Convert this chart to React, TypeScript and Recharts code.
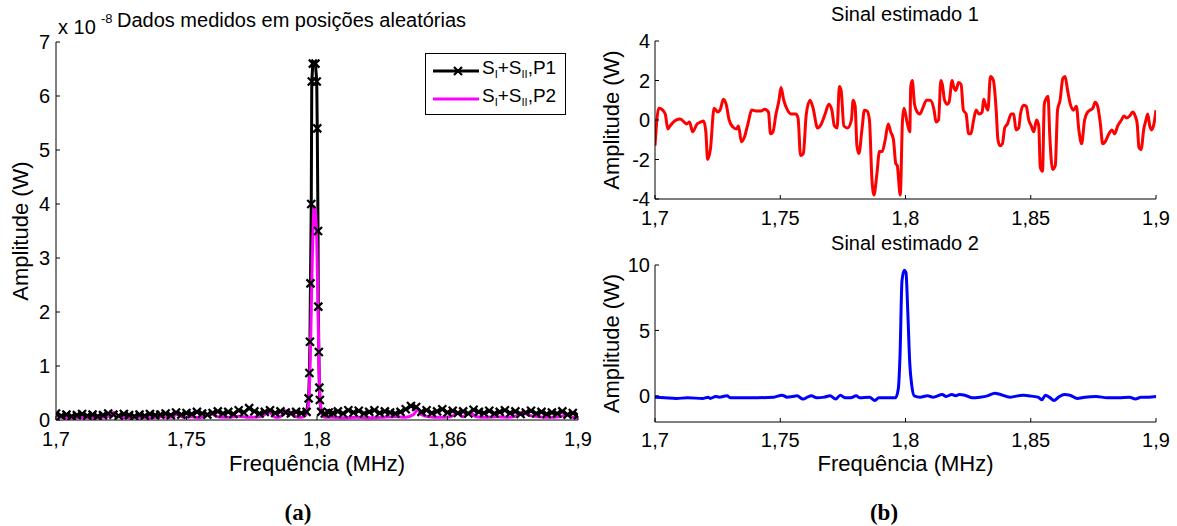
import React from 'react';
import { LineChart, Line, XAxis, YAxis, Legend } from 'recharts';

const FONT = '"Liberation Sans", Arial, Helvetica, sans-serif';

// ---------- axis ticks ----------
const freqTicks = [1.7, 1.75, 1.8, 1.85, 1.9];
const leftTickLabels = ['1,7', '1,75', '1,8', '1,86', '1,9'];
const rightTickLabels = ['1,7', '1,75', '1,8', '1,85', '1,9'];
const leftYTicks = [0, 1, 2, 3, 4, 5, 6, 7];
const topYTicks = [-4, -2, 0, 2, 4];
const bottomYTicks = [0, 5, 10];

// ---------- (a) S_I+S_II,P1 (x 1e-8 W) ----------
const p1Freq = [
  1.700, 1.702, 1.704, 1.706, 1.708, 1.710, 1.712, 1.714, 1.716, 1.718,
  1.720, 1.722, 1.724, 1.726, 1.728, 1.730, 1.732, 1.734, 1.736, 1.738,
  1.740, 1.742, 1.744, 1.746, 1.748, 1.750, 1.752, 1.754, 1.756, 1.758,
  1.760, 1.762, 1.764, 1.766, 1.768, 1.770, 1.772, 1.774, 1.776, 1.778,
  1.780, 1.782, 1.784, 1.786, 1.788, 1.790, 1.792, 1.794,
  1.7960, 1.7968, 1.7971, 1.7973, 1.7975, 1.7978, 1.7980, 1.7984, 1.7994, 1.7999,
  1.8001, 1.8004, 1.8005, 1.8007, 1.8009, 1.8011, 1.8016, 1.8030, 1.8045,
  1.806, 1.808, 1.810, 1.812, 1.814, 1.816, 1.818, 1.820, 1.822, 1.824,
  1.826, 1.828, 1.830, 1.832, 1.834, 1.836, 1.838, 1.840, 1.842, 1.844,
  1.846, 1.848, 1.850, 1.852, 1.854, 1.856, 1.858, 1.860, 1.862, 1.864,
  1.866, 1.868, 1.870, 1.872, 1.874, 1.876, 1.878, 1.880, 1.882, 1.884,
  1.886, 1.888, 1.890, 1.892, 1.894, 1.896, 1.898, 1.900,
];
const p1Values = [
  0.12, 0.08, 0.1, 0.07, 0.09, 0.11, 0.08, 0.1, 0.07, 0.09,
  0.12, 0.1, 0.08, 0.11, 0.09, 0.07, 0.1, 0.08, 0.11, 0.09,
  0.1, 0.12, 0.09, 0.14, 0.1, 0.13, 0.11, 0.15, 0.12, 0.1,
  0.13, 0.16, 0.12, 0.15, 0.11, 0.18, 0.14, 0.22, 0.16, 0.12,
  0.15, 0.18, 0.13, 0.16, 0.14, 0.12, 0.15, 0.13,
  0.15, 0.4, 0.87, 1.45, 2.53, 4.0, 6.27, 6.6, 6.6, 6.27,
  5.4, 3.5, 2.1, 1.26, 0.6, 0.37, 0.15, 0.12, 0.14,
  0.13, 0.16, 0.12, 0.18, 0.14, 0.17, 0.12, 0.15, 0.18, 0.13,
  0.16, 0.14, 0.12, 0.15, 0.2, 0.26, 0.24, 0.15, 0.18, 0.13,
  0.16, 0.2, 0.14, 0.17, 0.13, 0.16, 0.12, 0.19, 0.15, 0.13,
  0.17, 0.12, 0.15, 0.18, 0.13, 0.16, 0.11, 0.14, 0.17, 0.12,
  0.15, 0.11, 0.14, 0.12, 0.16, 0.1, 0.13, 0.09,
];

// ---------- (a) S_I+S_II,P2 ----------
const p2Freq = [
  1.700, 1.702, 1.706, 1.710, 1.714, 1.718, 1.7205, 1.7222, 1.724, 1.728,
  1.732, 1.736, 1.740, 1.744, 1.7464, 1.749, 1.752, 1.755, 1.7593, 1.762,
  1.766, 1.770, 1.774, 1.778, 1.7818, 1.784, 1.786, 1.7877, 1.790, 1.792,
  1.794, 1.7955,
  1.7968, 1.7975, 1.7982, 1.7990, 1.7998, 1.8004, 1.8010, 1.8018, 1.8030,
  1.806, 1.810, 1.815, 1.820, 1.825, 1.830, 1.834, 1.837, 1.8386, 1.840,
  1.843, 1.847, 1.851, 1.8538, 1.856, 1.8587, 1.861, 1.865, 1.869, 1.873,
  1.876, 1.8788, 1.881, 1.885, 1.889, 1.893, 1.8961, 1.898, 1.900,
];
const p2Values = [
  0.1, 0.05, 0.04, 0.05, 0.04, 0.05, 0.08, 0.14, 0.06, 0.04,
  0.05, 0.04, 0.06, 0.05, 0.1, 0.05, 0.06, 0.04, 0.12, 0.06,
  0.05, 0.07, 0.05, 0.06, 0.14, 0.05, 0.06, 0.17, 0.14, 0.06,
  0.05, 0.08,
  0.3, 1.3, 3.0, 3.95, 3.5, 2.0, 0.6, 0.12, 0.05,
  0.05, 0.04, 0.05, 0.04, 0.05, 0.06, 0.05, 0.1, 0.19, 0.1,
  0.06, 0.05, 0.06, 0.12, 0.06, 0.14, 0.06, 0.05, 0.06, 0.05,
  0.07, 0.15, 0.09, 0.06, 0.05, 0.06, 0.1, 0.05, 0.04,
];

// ---------- (b) Sinal estimado 1 [freq, W] ----------
const sinal1: [number, number][] = [
  [1.7000, -1.3], [1.7015, 0.6], [1.7026, 0.55], [1.7041, 0.3], [1.7051, -0.45], [1.7060, -0.3],
  [1.7078, -0.05], [1.7100, 0.05], [1.7116, -0.1], [1.7126, -0.2], [1.7138, -0.1], [1.7150, -0.6],
  [1.7168, -0.2], [1.7183, -0.1], [1.7194, -0.05], [1.7203, -0.6], [1.7210, -2.0], [1.7221, -1.5],
  [1.7236, 0.6], [1.7251, 0.4], [1.7261, 0.55], [1.7273, 1.05], [1.7284, 0.8], [1.7296, 0.0],
  [1.7311, -0.35], [1.7326, -0.45], [1.7333, -0.3], [1.7345, -1.1], [1.7356, -0.9], [1.7371, -0.2],
  [1.7386, 0.5], [1.7408, 0.45], [1.7423, 0.45], [1.7438, 0.55], [1.7453, 0.4], [1.7461, -0.7],
  [1.7471, -0.6], [1.7483, 0.3], [1.7495, 1.0], [1.7503, 1.65], [1.7514, 1.0], [1.7529, 0.5],
  [1.7544, 0.3], [1.7562, 0.3], [1.7571, 0.1], [1.7581, -1.8], [1.7592, -1.7], [1.7604, 0.3],
  [1.7619, 1.0], [1.7631, 0.6], [1.7649, -0.4], [1.7664, -0.2], [1.7679, 0.3], [1.7694, 0.8],
  [1.7706, 0.5], [1.7716, -0.3], [1.7727, -0.4], [1.7736, 1.7], [1.7743, 1.5], [1.7754, -0.3],
  [1.7769, -0.4], [1.7784, 0.0], [1.7791, 1.0], [1.7799, 0.7], [1.7806, -1.3], [1.7814, -1.7],
  [1.7826, -0.5], [1.7836, 0.5], [1.7847, 0.45], [1.7856, 0.0], [1.7866, -3.0], [1.7874, -3.8],
  [1.7886, -2.7], [1.7896, -1.6], [1.7907, -1.6], [1.7919, -1.0], [1.7931, -0.2], [1.7941, -0.6],
  [1.7952, -1.0], [1.7961, -2.2], [1.7967, -2.3], [1.7979, -3.8], [1.7988, 0.0], [1.7994, 0.6],
  [1.8006, -0.1], [1.8017, -0.6], [1.8021, 1.7], [1.8027, 2.0], [1.8036, 0.8], [1.8047, 0.4],
  [1.8057, 0.3], [1.8069, 0.6], [1.8084, 1.0], [1.8099, 1.0], [1.8114, 0.5], [1.8122, -0.1],
  [1.8132, 0.0], [1.8141, 2.0], [1.8147, 1.8], [1.8156, 1.0], [1.8167, 0.8], [1.8174, 0.9],
  [1.8186, 2.0], [1.8192, 1.7], [1.8201, 1.5], [1.8212, 1.9], [1.8222, 1.8], [1.8231, 0.5],
  [1.8242, 0.3], [1.8252, -0.7], [1.8261, -0.7], [1.8272, 0.0], [1.8282, 0.5], [1.8294, 0.3],
  [1.8306, 0.4], [1.8312, 1.05], [1.8321, 0.7], [1.8329, 0.5], [1.8339, 2.2], [1.8351, 2.0],
  [1.8362, 0.5], [1.8369, -1.0], [1.8377, -1.3], [1.8387, -1.2], [1.8396, -0.4], [1.8407, -0.2],
  [1.8422, 0.3], [1.8432, 0.3], [1.8441, -0.5], [1.8452, -0.4], [1.8459, 0.3], [1.8471, 0.75],
  [1.8482, 0.7], [1.8492, 0.0], [1.8502, -0.3], [1.8512, -0.6], [1.8523, 0.0], [1.8532, -0.3],
  [1.8538, -2.4], [1.8547, -2.6], [1.8554, 0.8], [1.8562, 1.1], [1.8569, 1.2], [1.8576, -0.8],
  [1.8587, -2.5], [1.8598, -2.3], [1.8607, 0.5], [1.8617, 1.0], [1.8628, 2.1], [1.8637, 2.2],
  [1.8647, 1.5], [1.8658, 0.8], [1.8670, 0.5], [1.8682, 0.7], [1.8692, -0.5], [1.8703, -1.2],
  [1.8715, 0.0], [1.8727, 0.4], [1.8737, 0.5], [1.8748, 0.6], [1.8757, 0.9], [1.8767, 0.7],
  [1.8778, -0.2], [1.8787, -1.2], [1.8797, -1.1], [1.8812, -0.7], [1.8824, -0.5], [1.8835, -0.7],
  [1.8847, -0.3], [1.8862, 0.0], [1.8872, 0.2], [1.8883, 0.1], [1.8895, 0.2], [1.8907, 0.4],
  [1.8917, 0.2], [1.8925, -0.2], [1.8932, -1.4], [1.8940, -1.5], [1.8952, -0.4], [1.8958, -0.1],
  [1.8967, 0.3], [1.8975, -0.3], [1.8982, -0.5], [1.8990, -0.3], [1.9000, 0.5],
];

// ---------- (b) Sinal estimado 2 [freq, W] ----------
const sinal2: [number, number][] = [
  [1.7000, -0.1], [1.7040, -0.15], [1.7085, -0.2], [1.7130, -0.15], [1.7190, -0.2], [1.7212, -0.1],
  [1.7220, -0.2], [1.7242, -0.05], [1.7257, -0.1], [1.7287, 0.0], [1.7302, -0.15], [1.7384, -0.15],
  [1.7474, -0.1], [1.7507, 0.05], [1.7527, -0.1], [1.7549, -0.05], [1.7567, 0.0], [1.7591, -0.25],
  [1.7609, -0.1], [1.7624, 0.0], [1.7646, -0.15], [1.7676, -0.1], [1.7699, 0.0], [1.7721, -0.25],
  [1.7740, 0.05], [1.7758, -0.15], [1.7781, -0.15], [1.7803, 0.0], [1.7818, -0.15], [1.7856, -0.1],
  [1.7878, -0.35], [1.7893, -0.15], [1.7960, -0.15], [1.7971, 0.5], [1.7978, 3.0], [1.7986, 8.8],
  [1.7995, 9.6], [1.8002, 9.4], [1.8009, 6.5], [1.8017, 2.5], [1.8025, 0.8], [1.8035, 0.0],
  [1.8058, -0.1], [1.8088, 0.0], [1.8110, -0.1], [1.8147, 0.1], [1.8162, -0.05], [1.8185, 0.1],
  [1.8200, 0.0], [1.8215, 0.1], [1.8237, 0.05], [1.8267, -0.15], [1.8297, -0.1], [1.8327, 0.0],
  [1.8357, 0.2], [1.8379, 0.1], [1.8417, -0.1], [1.8469, 0.05], [1.8491, 0.0], [1.8529, -0.1],
  [1.8544, -0.3], [1.8559, 0.05], [1.8574, -0.1], [1.8593, -0.35], [1.8611, -0.1], [1.8634, 0.1],
  [1.8656, 0.05], [1.8686, -0.2], [1.8716, -0.1], [1.8761, -0.05], [1.8805, -0.15], [1.8850, -0.15],
  [1.8895, -0.1], [1.8918, -0.25], [1.8940, -0.1], [1.8970, -0.1], [1.9000, -0.05],
];

const zip = (fs: number[], vs: number[]) =>
  fs.slice(0, Math.min(fs.length, vs.length)).map((f, i) => ({ f, v: vs[i] }));
const fromPairs = (p: [number, number][]) => p.map(([f, v]) => ({ f, v }));

const p1Data = zip(p1Freq, p1Values);
const p2Data = zip(p2Freq, p2Values);
const s1Data = fromPairs(sinal1);
const s2Data = fromPairs(sinal2);

const tickStyle = { fill: '#000', fontSize: 20, fontFamily: FONT };
const leftFmt = (v: number) => leftTickLabels[freqTicks.indexOf(v)] ?? '';
const rightFmt = (v: number) => rightTickLabels[freqTicks.indexOf(v)] ?? '';
const yFmt = (v: number) => String(v);
const blank = () => '';

const XMarker = (props: any) => {
  const { cx, cy, index } = props;
  if (cx == null || cy == null) return <g key={`m${index}`} />;
  const r = 4;
  return (
    <path
      key={`m${index}`}
      d={`M${cx - r},${cy - r}L${cx + r},${cy + r}M${cx - r},${cy + r}L${cx + r},${cy - r}`}
      stroke="#000"
      strokeWidth={2.2}
      fill="none"
    />
  );
};

const LegendBox = () => (
  <div
    style={{
      width: 141,
      height: 62,
      boxSizing: 'border-box',
      border: '1px solid #000',
      background: '#fff',
      fontFamily: FONT,
      fontSize: 19,
      color: '#000',
      position: 'relative',
    }}
  >
    {[
      { color: '#000000', marker: true, label: 'P1', top: 6 },
      { color: '#FF00FF', marker: false, label: 'P2', top: 34 },
    ].map((e) => (
      <div key={e.label} style={{ position: 'absolute', left: 7, top: e.top, display: 'flex', alignItems: 'center', height: 22 }}>
        <svg width={47} height={12} style={{ display: 'block' }}>
          <line x1={0} y1={6} x2={46} y2={6} stroke={e.color} strokeWidth={3} />
          {e.marker && <path d="M21,2L29,10M21,10L29,2" stroke="#000" strokeWidth={2.2} />}
        </svg>
        <span style={{ marginLeft: 2, whiteSpace: 'nowrap', lineHeight: '20px' }}>
          S<sub style={{ fontSize: 11, verticalAlign: '-4px' }}>I</sub>+S
          <sub style={{ fontSize: 11, verticalAlign: '-4px' }}>II</sub>,{e.label}
        </span>
      </div>
    ))}
  </div>
);

const axisCommon = { stroke: '#000', tickLine: { stroke: '#000' } };
const axisLabelFont = { fill: '#000', fontSize: 22, fontFamily: FONT };

export default function App() {
  return (
    <div
      style={{
        position: 'absolute',
        left: 0,
        top: 0,
        width: 1177,
        height: 526,
        overflow: 'hidden',
        background: '#fff',
        fontFamily: FONT,
      }}
    >
      {/* (a) */}
      <div style={{ position: 'absolute', left: 0, top: 0 }}>
        <LineChart width={600} height={480} margin={{ top: 42, right: 22, bottom: 30, left: 0 }}>
          <XAxis
            xAxisId={0}
            type="number"
            dataKey="f"
            domain={[1.7, 1.9]}
            ticks={freqTicks}
            tickFormatter={leftFmt}
            allowDataOverflow
            height={30}
            tickSize={-4}
            tickMargin={16}
            tick={tickStyle}
            {...axisCommon}
            label={{ value: 'Frequência (MHz)', position: 'insideBottom', offset: -21, ...axisLabelFont }}
          />
          <XAxis
            xAxisId="top"
            orientation="top"
            type="number"
            dataKey="f"
            domain={[1.7, 1.9]}
            ticks={freqTicks}
            tickFormatter={blank}
            allowDataOverflow
            height={0}
            tickSize={-4}
            {...axisCommon}
          />
          <YAxis
            yAxisId={0}
            type="number"
            domain={[0, 7]}
            ticks={leftYTicks}
            tickFormatter={yFmt}
            allowDataOverflow
            width={56}
            tickSize={-4}
            tickMargin={10}
            tick={tickStyle}
            {...axisCommon}
            label={{ value: 'Amplitude (W)', angle: -90, position: 'insideLeft', offset: 20, ...axisLabelFont, style: { textAnchor: 'middle' } }}
          />
          <YAxis
            yAxisId="r"
            orientation="right"
            type="number"
            domain={[0, 7]}
            ticks={leftYTicks}
            tickFormatter={blank}
            allowDataOverflow
            width={0}
            tickSize={-4}
            {...axisCommon}
          />
          <Legend
            content={() => <LegendBox />}
            layout="horizontal"
            verticalAlign="middle"
            align="center"
            wrapperStyle={{ left: 425, top: 53, width: 141, height: 62, right: 'auto', bottom: 'auto' }}
          />
          <Line
            name="P1"
            data={p1Data}
            dataKey="v"
            type="linear"
            stroke="#000000"
            strokeWidth={3}
            dot={XMarker}
            activeDot={false}
            isAnimationActive={false}
          />
          <Line
            name="P2"
            data={p2Data}
            dataKey="v"
            type="monotone"
            stroke="#FF00FF"
            strokeWidth={3}
            dot={false}
            activeDot={false}
            isAnimationActive={false}
          />
        </LineChart>
      </div>

      {/* (b) top */}
      <div style={{ position: 'absolute', left: 600, top: 0 }}>
        <LineChart width={577} height={235} margin={{ top: 41, right: 21, bottom: 6, left: 0 }}>
          <XAxis
            xAxisId={0}
            type="number"
            dataKey="f"
            domain={[1.7, 1.9]}
            ticks={freqTicks}
            tickFormatter={rightFmt}
            allowDataOverflow
            height={30}
            tickSize={-4}
            tickMargin={16}
            tick={tickStyle}
            {...axisCommon}
          />
          <XAxis xAxisId="top" orientation="top" type="number" dataKey="f" domain={[1.7, 1.9]} ticks={freqTicks} tickFormatter={blank} allowDataOverflow height={0} tickSize={-4} {...axisCommon} />
          <YAxis
            yAxisId={0}
            type="number"
            domain={[-4, 4]}
            ticks={topYTicks}
            tickFormatter={yFmt}
            allowDataOverflow
            width={55}
            tickSize={-4}
            tickMargin={9}
            tick={tickStyle}
            {...axisCommon}
            label={{ value: 'Amplitude (W)', angle: -90, position: 'insideLeft', offset: 11, ...axisLabelFont, style: { textAnchor: 'middle' } }}
          />
          <YAxis yAxisId="r" orientation="right" type="number" domain={[-4, 4]} ticks={topYTicks} tickFormatter={blank} allowDataOverflow width={0} tickSize={-4} {...axisCommon} />
          <Line
            data={s1Data}
            dataKey="v"
            type="monotone"
            stroke="#FF0000"
            strokeWidth={3}
            dot={false}
            activeDot={false}
            isAnimationActive={false}
          />
        </LineChart>
      </div>

      {/* (b) bottom */}
      <div style={{ position: 'absolute', left: 600, top: 230 }}>
        <LineChart width={577} height={296} margin={{ top: 35, right: 21, bottom: 74, left: 0 }}>
          <XAxis
            xAxisId={0}
            type="number"
            dataKey="f"
            domain={[1.7, 1.9]}
            ticks={freqTicks}
            tickFormatter={rightFmt}
            allowDataOverflow
            height={30}
            tickSize={-4}
            tickMargin={15}
            tick={tickStyle}
            {...axisCommon}
            label={{ value: 'Frequência (MHz)', position: 'insideBottom', offset: -19, ...axisLabelFont }}
          />
          <XAxis xAxisId="top" orientation="top" type="number" dataKey="f" domain={[1.7, 1.9]} ticks={freqTicks} tickFormatter={blank} allowDataOverflow height={0} tickSize={-4} {...axisCommon} />
          <YAxis
            yAxisId={0}
            type="number"
            domain={[-2, 10]}
            ticks={bottomYTicks}
            tickFormatter={yFmt}
            allowDataOverflow
            width={55}
            tickSize={-4}
            tickMargin={9}
            tick={tickStyle}
            {...axisCommon}
            label={{ value: 'Amplitude (W)', angle: -90, position: 'insideLeft', offset: 11, ...axisLabelFont, style: { textAnchor: 'middle' } }}
          />
          <YAxis yAxisId="r" orientation="right" type="number" domain={[-2, 10]} ticks={bottomYTicks} tickFormatter={blank} allowDataOverflow width={0} tickSize={-4} {...axisCommon} />
          <Line
            data={s2Data}
            dataKey="v"
            type="monotone"
            stroke="#0000FF"
            strokeWidth={3}
            dot={false}
            activeDot={false}
            isAnimationActive={false}
          />
        </LineChart>
      </div>

      {/* titles and panel labels */}
      <svg
        width={1177}
        height={526}
        style={{ position: 'absolute', left: 0, top: 0, pointerEvents: 'none' }}
      >
        <g fontFamily={FONT} fill="#000">
          <text x={58} y={34} fontSize={20}>x 10</text>
          <text x={101} y={23} fontSize={13}>-8</text>
          <text x={117} y={27} fontSize={20}>Dados medidos em posições aleatórias</text>
          <text x={905} y={21} fontSize={20} textAnchor="middle">Sinal estimado 1</text>
          <text x={905} y={250} fontSize={20} textAnchor="middle">Sinal estimado 2</text>
        </g>
        <g fontFamily='"Liberation Serif", "Times New Roman", serif' fontWeight="bold" fontSize={23} fill="#000" textAnchor="middle">
          <text x={298} y={520}>(a)</text>
          <text x={884} y={520}>(b)</text>
        </g>
      </svg>
    </div>
  );
}
